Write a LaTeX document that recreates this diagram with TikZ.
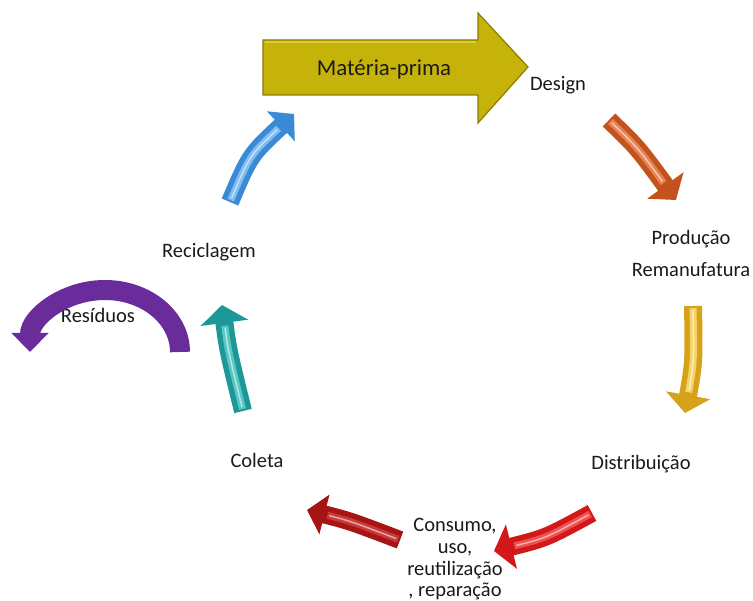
\documentclass[tikz,border=0pt]{standalone}
\usepackage{fontspec}
\setmainfont{Carlito}
\usetikzlibrary{arrows.meta}
\definecolor{txt}{HTML}{1A1A1A}
\definecolor{mpfill}{HTML}{C6B30A}
\definecolor{mpdark}{HTML}{8C7D00}
\definecolor{mplight}{HTML}{DCCB3A}
\definecolor{orgM}{HTML}{C4521C}\definecolor{orgL}{HTML}{E58452}
\definecolor{gldM}{HTML}{D6A21A}\definecolor{gldL}{HTML}{F4D46A}
\definecolor{redM}{HTML}{D21818}\definecolor{redL}{HTML}{F05050}
\definecolor{drdM}{HTML}{A61414}\definecolor{drdL}{HTML}{C83A3A}
\definecolor{tealM}{HTML}{1E9896}\definecolor{tealL}{HTML}{58C8C4}
\definecolor{bluM}{HTML}{3A8AD6}\definecolor{bluL}{HTML}{80BCF2}
\definecolor{purM}{HTML}{6A2C9A}\definecolor{purL}{HTML}{8E54BE}
% #1 main colour, #2 light colour, #3 tail, #4 control, #5 tip, #6 head width
\newcommand{\cblockarrow}[6]{%
  \draw[line width=18pt, draw=#1, -{Triangle[width=#6 0, length=18pt 0]}]
    (#3) .. controls (#4) .. (#5);
  \draw[line width=7pt, draw=#2, shorten >=21pt, shorten <=2pt]
    (#3) .. controls (#4) .. (#5);
  \draw[line width=1.5pt, draw=white!55!#2, shorten >=23pt, shorten <=4pt]
    (#3) .. controls (#4) .. (#5);
}
\begin{document}
\begin{tikzpicture}[x=1pt,y=-1pt,
  lbl/.style={font=\fontsize{20.5}{22}\selectfont, text=txt, inner sep=0pt, anchor=base}]
\useasboundingbox (0,0) rectangle (753,601);

% big arrow with its label
\draw[fill=mpfill, draw=mpdark, line width=1.2pt, line join=miter]
  (263,40) -- (478,40) -- (478,13) -- (528,67) -- (478,123) -- (478,95) -- (263,95) -- cycle;
\draw[mplight, line width=2pt] (265,42) -- (476,42);
\node[lbl, font=\fontsize{22.8}{27}\selectfont] (mp) at (384,76) {Matéria-prima};

% labels (base anchor = baseline of the last line)
\node[lbl] (design) at (558,91) {Design};
\node[lbl, align=center, font=\fontsize{20.5}{32}\selectfont] (prod) at (691,277) {Produção\\Remanufatura};
\node[lbl] (dist) at (641,470) {Distribuição};
\node[lbl, align=center, font=\fontsize{20.5}{21.7}\selectfont] (cons) at (455,597) {Consumo,\\uso,\\reutilização\\, reparação};
\node[lbl] (col) at (257,468) {Coleta};
\node[lbl] (rec) at (209,258) {Reciclagem};
\node[lbl] (res) at (98,323) {Resíduos};

% arrow end points
\coordinate (oT) at (609,120); \coordinate (oC) at (638,148); \coordinate (oH) at (676,200);
\coordinate (gT) at (693,306); \coordinate (gC) at (694,362); \coordinate (gH) at (685,413);
\coordinate (rT) at (592,513); \coordinate (rC) at (546,538); \coordinate (rH) at (494,551);
\coordinate (dT) at (400,540); \coordinate (dC) at (350,521); \coordinate (dH) at (307,510);
\coordinate (tT) at (243,411); \coordinate (tC) at (228,350); \coordinate (tH) at (222,305);
\coordinate (bT) at (230,202); \coordinate (bC) at (250,155); \coordinate (bH) at (294,114);

\cblockarrow{orgM}{orgL}{oT}{oC}{oH}{44pt}
\cblockarrow{gldM}{gldL}{gT}{gC}{gH}{44pt}
\cblockarrow{redM}{redL}{rT}{rC}{rH}{45pt}
\cblockarrow{drdM}{drdL}{dT}{dC}{dH}{40pt}
\cblockarrow{tealM}{tealL}{tT}{tC}{tH}{47pt}
\cblockarrow{bluM}{bluL}{bT}{bC}{bH}{40pt}

% purple arrow (Resíduos)
\coordinate (pT) at (180,352);
\draw[line width=20pt, draw=purM, -{Triangle[width=36pt 0, length=19pt 0]}]
  (pT) arc[start angle=0, end angle=-180, x radius=75, y radius=62];
\end{tikzpicture}
\end{document}
